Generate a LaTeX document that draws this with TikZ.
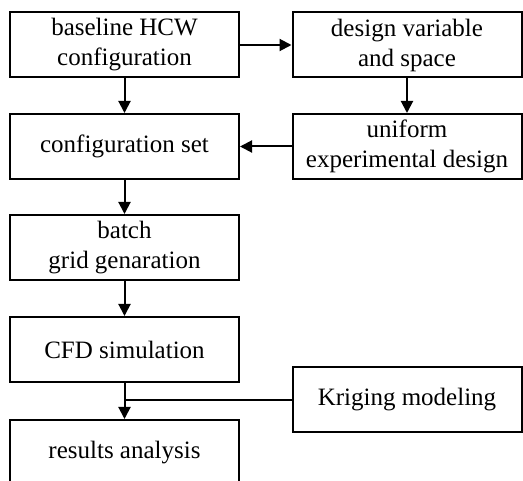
\documentclass[tikz,border=0pt]{standalone}
\usepackage{fontspec}
\setmainfont{Liberation Serif}
\usetikzlibrary{arrows.meta}
\tikzset{
  box/.style={draw=black, line width=2pt, fill=white, minimum width=229pt, minimum height=65pt,
    align=center, inner sep=0pt, font=\fontsize{25pt}{30pt}\selectfont},
  arr/.style={line width=2pt, -{Triangle[width=12pt,length=12pt]}},
  link/.style={line width=2pt}
}
\begin{document}
\begin{tikzpicture}[x=1pt,y=-1pt]
\useasboundingbox (0,0) rectangle (523,481);
\clip (0,0) rectangle (523,481);
\fill[white] (0,0) rectangle (523,481);
\node[box] (base) at (124.5,45) {baseline HCW\\configuration};
\node[box] (design) at (407,45) {design variable\\and space};
\node[box] (config) at (124.5,146.5) {configuration set};
\node[box] (uniform) at (407,146.5) {uniform\\experimental design};
\node[box] (batch) at (124.5,247.5) {batch\\grid genaration};
\node[box] (cfd) at (124.5,349.5) {CFD simulation};
\node[box] (krig) at (407,400) {Kriging modeling};
\node[box] (res) at (124.5,452.5) {results analysis};
\coordinate (join) at (krig.west -| cfd.south);
\draw[arr] (base) -- (design);
\draw[arr] (base) -- (config);
\draw[arr] (design) -- (uniform);
\draw[arr] (uniform) -- (config);
\draw[arr] (config) -- (batch);
\draw[arr] (batch) -- (cfd);
\draw[arr] (cfd) -- (res);
\draw[link] (krig.west) -- (join);
\end{tikzpicture}
\end{document}
